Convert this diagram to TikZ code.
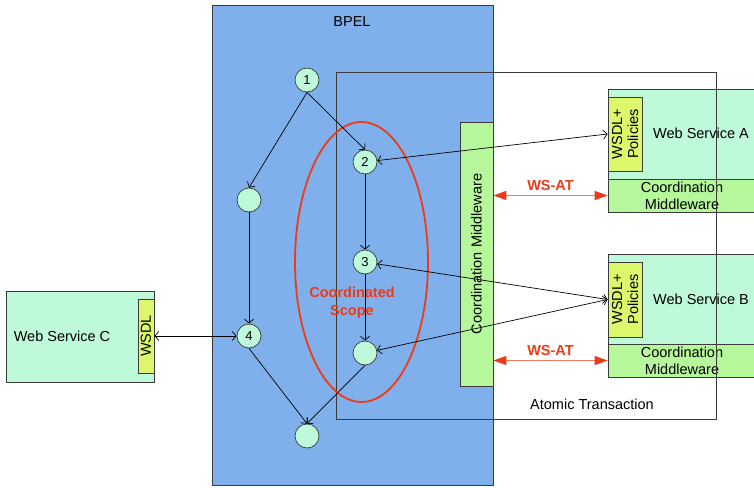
\documentclass[tikz,border=0pt]{standalone}
\usepackage{fontspec}
\setmainfont{Liberation Sans}
\usetikzlibrary{arrows.meta}
\definecolor{bpel}{HTML}{7FB0EC}
\definecolor{mint}{HTML}{BEFADA}
\definecolor{cmgreen}{HTML}{B6F79B}
\definecolor{wsdly}{HTML}{DCF76C}
\definecolor{redc}{HTML}{EE3A16}
\definecolor{redl}{HTML}{F07A5E}
\definecolor{edgec}{HTML}{3A3A3A}
\tikzset{
  box/.style={draw=edgec, line width=0.8pt, inner sep=0pt, rectangle},
  step0/.style={circle, draw=edgec, line width=0.7pt, fill=mint, minimum size=24pt, inner sep=0pt, font=\fontsize{13}{14}\selectfont},
  flow/.style={line width=0.7pt, -{Straight Barb[length=4pt,width=9pt]}},
  bidi/.style={line width=0.7pt, {Straight Barb[length=4pt,width=9pt]}-{Straight Barb[length=4pt,width=9pt]}},
  wsat/.style={redl, line width=1.3pt, {Triangle[length=13pt,width=9pt,color=redc]}-{Triangle[length=13pt,width=9pt,color=redc]}},
  lbl/.style={inner sep=0pt, align=center},
}
\begin{document}
\begin{tikzpicture}[x=1pt,y=-1pt,font=\fontsize{14.5}{17}\selectfont]
\clip (0,0) rectangle (754,487);
\fill[white] (0,0) rectangle (754,487);
% BPEL
\node[box, fill=bpel, minimum width=281pt, minimum height=480pt] (bpel) at (352.5,245) {};
\node[lbl] (bpellbl) at (352,22) {BPEL};
% Coordination middleware (vertical)
\node[box, fill=cmgreen, minimum width=33pt, minimum height=264pt] (cmv) at (476.5,254) {};
\node[lbl, rotate=90] (cmvlbl) at (476.5,254) {Coordination Middleware};
% Web Service A
\node[box, fill=mint, minimum width=162pt, minimum height=90pt] (wsA) at (689,134) {};
\node[box, fill=cmgreen, minimum width=162pt, minimum height=33pt] (wsAcm) at (689,195.5) {};
\node[box, fill=wsdly, minimum width=34pt, minimum height=74pt] (wsdlA) at (625,134) {};
\node[lbl, rotate=90, font=\fontsize{14.5}{16}\selectfont] (wsdlAlbl) at (625,134) {WSDL+\\Policies};
\node[lbl] (wsAlbl) at (701,133) {Web Service A};
\node[lbl, font=\fontsize{14.5}{17}\selectfont] (wsAcmlbl) at (682,195.5) {Coordination\\Middleware};
% Web Service B
\node[box, fill=mint, minimum width=162pt, minimum height=90pt] (wsB) at (689,299) {};
\node[box, fill=cmgreen, minimum width=162pt, minimum height=33pt] (wsBcm) at (689,360.5) {};
\node[box, fill=wsdly, minimum width=34pt, minimum height=75pt] (wsdlB) at (625,299.5) {};
\node[lbl, rotate=90, font=\fontsize{14.5}{16}\selectfont] (wsdlBlbl) at (625,299.5) {WSDL+\\Policies};
\node[lbl] (wsBlbl) at (701,299) {Web Service B};
\node[lbl, font=\fontsize{14.5}{17}\selectfont] (wsBcmlbl) at (682,360.5) {Coordination\\Middleware};
% Web Service C
\node[box, fill=mint, minimum width=148pt, minimum height=91pt] (wsC) at (80,336.5) {};
\node[box, fill=wsdly, minimum width=16pt, minimum height=74pt] (wsdlC) at (146,336) {};
\node[lbl, rotate=90] (wsdlClbl) at (146,336) {WSDL};
\node[lbl] (wsClbl) at (62,336) {Web Service C};
% Atomic transaction
\node[box, minimum width=380pt, minimum height=347pt] (atx) at (526,245.5) {};
\node[lbl] (atxlbl) at (592,404) {Atomic Transaction};
% Coordinated scope
\draw[redc, line width=1.8pt] (361.5,262) ellipse [x radius=66.5, y radius=140];
\node[lbl, text=redc, font=\fontsize{14.5}{18}\selectfont\bfseries] (scope) at (352,303) {Coordinated\\Scope};
% activities
\node[step0] (c1) at (307,80) {1};
\node[step0] (c2) at (365,162) {2};
\node[step0] (cl) at (249,200) {};
\node[step0] (c3) at (365,262) {3};
\node[step0] (c4) at (249,336) {4};
\node[step0] (cr) at (365,353) {};
\node[step0] (cb) at (307,436) {};
\draw[flow] (c1.south) -- (c2.north);
\draw[flow] (c1.south) -- (cl.north);
\draw[flow] (cl) -- (c4);
\draw[flow] (c2) -- (c3);
\draw[flow] (c3) -- (cr);
\draw[flow] (c4.south) -- (cb.north);
\draw[flow] (cr.south) -- (cb.north);
% service calls
\draw[bidi] (c2) -- (wsdlA.west);
\draw[bidi] (c3) -- (wsdlB.west);
\draw[bidi] (cr) -- (wsdlB.west);
\draw[bidi] (c4) -- (wsdlC.east);
% WS-AT
\draw[wsat] (cmv.east |- wsAcm.west) -- node[above=1pt, text=redc, font=\fontsize{14.5}{16}\selectfont\bfseries] (wsat1) {WS-AT} (wsAcm.west);
\draw[wsat] (cmv.east |- wsBcm.west) -- node[above=1pt, text=redc, font=\fontsize{14.5}{16}\selectfont\bfseries] (wsat2) {WS-AT} (wsBcm.west);
\end{tikzpicture}
\end{document}
